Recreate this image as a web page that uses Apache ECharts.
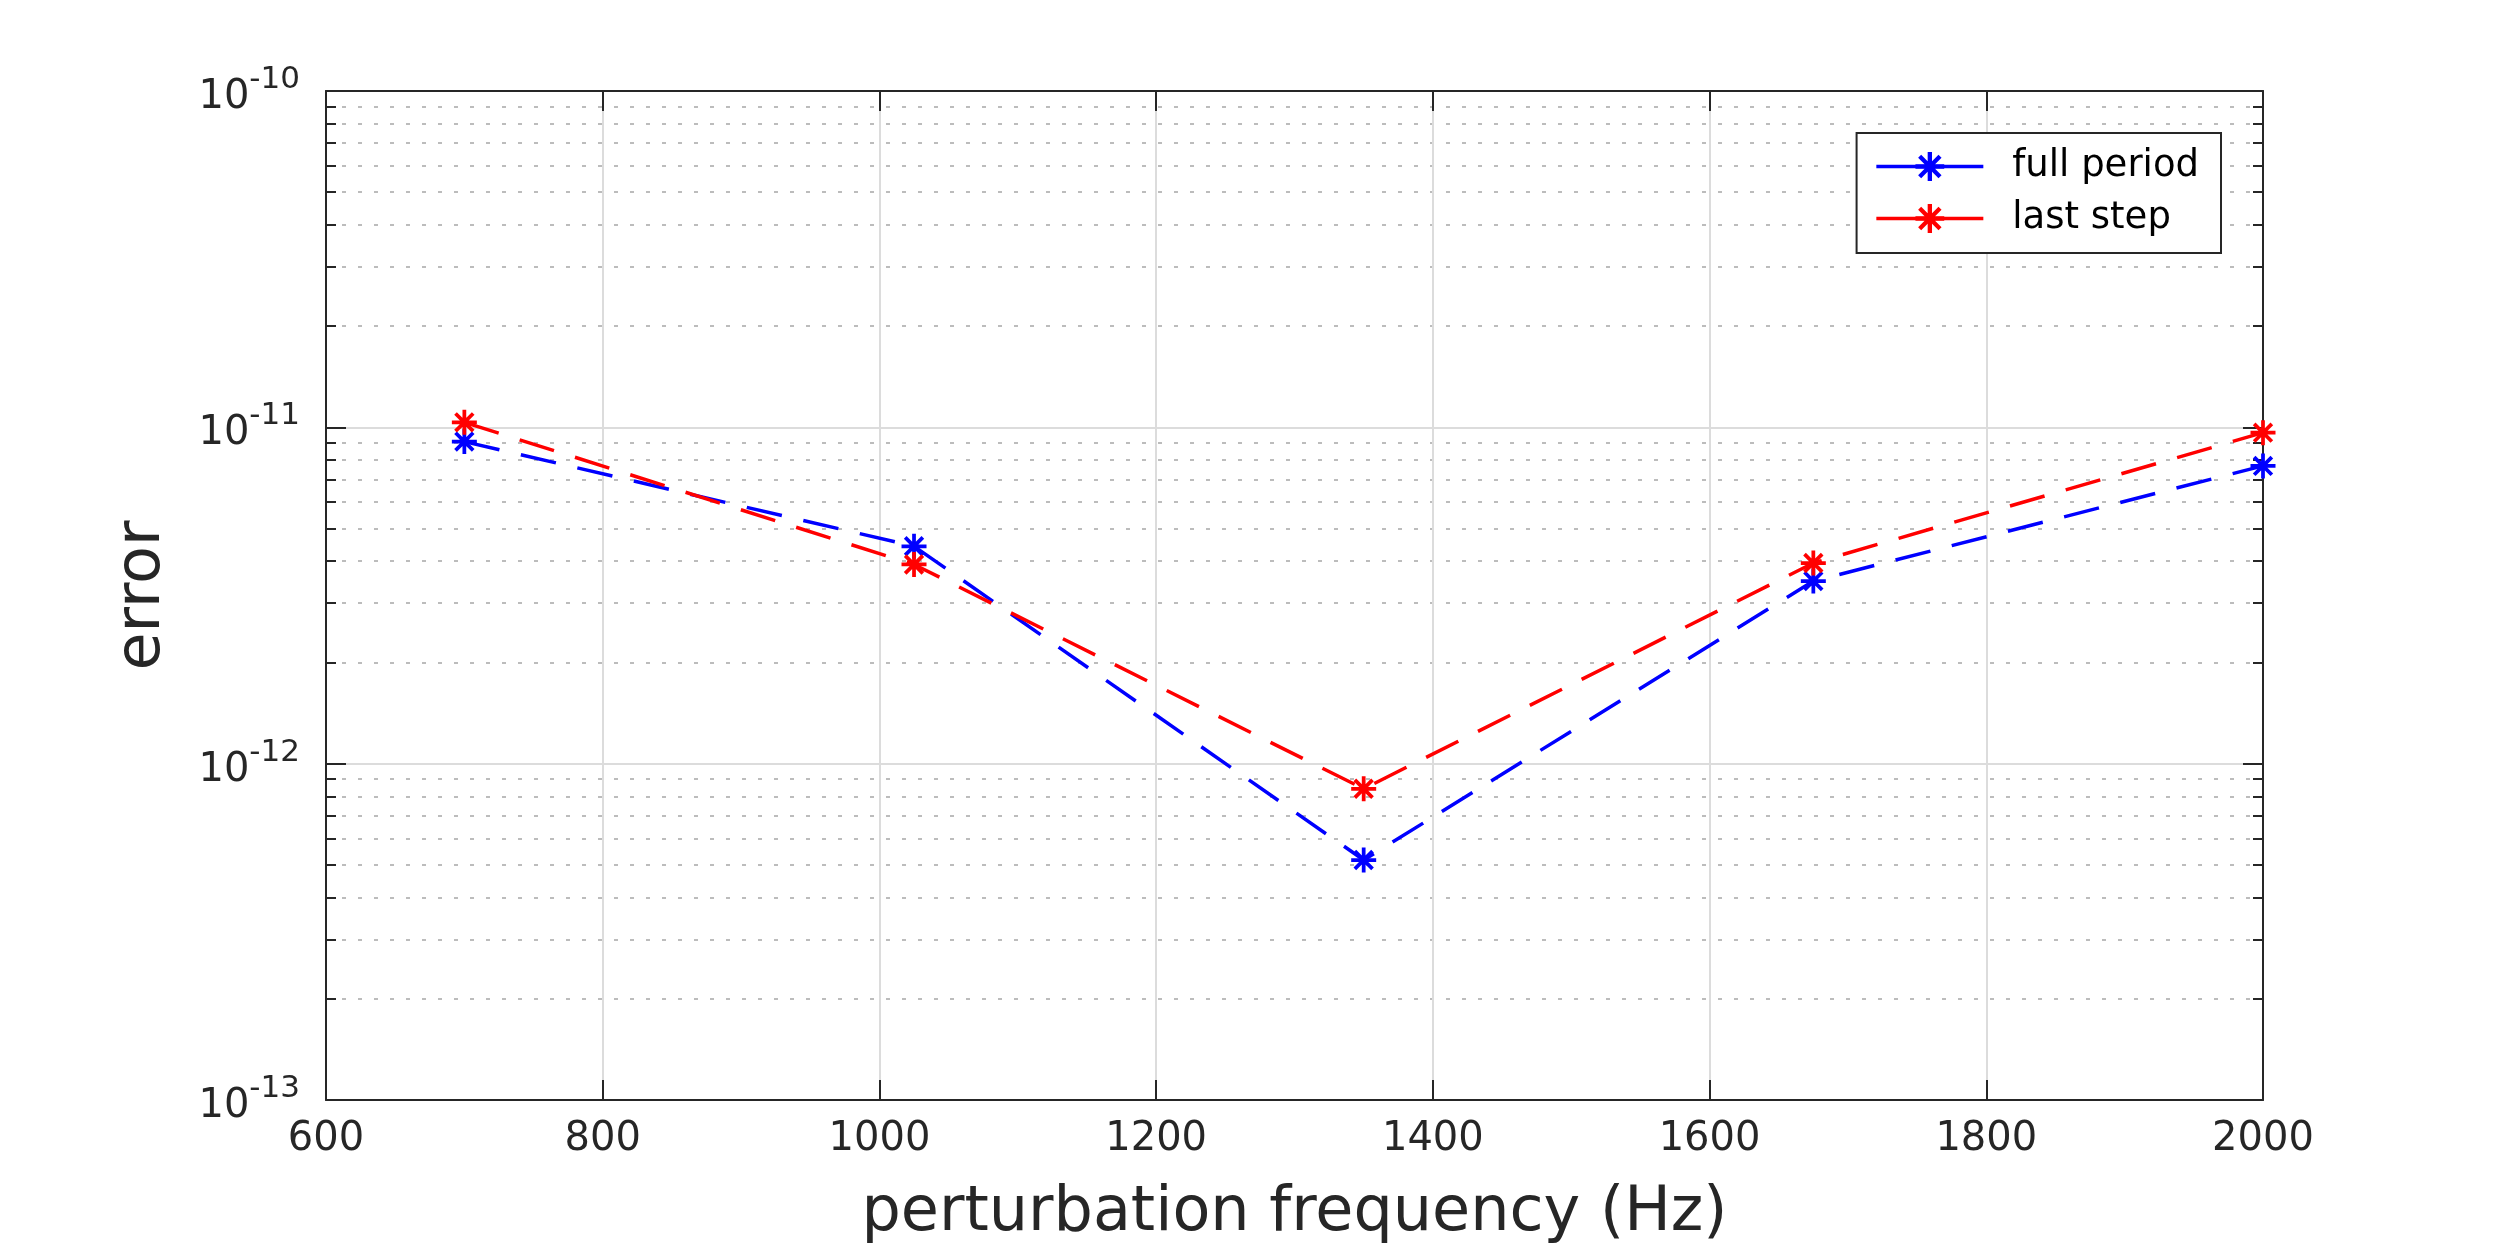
<!DOCTYPE html>
<html>
<head>
<meta charset="utf-8">
<title>error vs perturbation frequency</title>
<script src="https://cdn.jsdelivr.net/npm/echarts@6/dist/echarts.min.js"></script>
<style>
  html, body { margin: 0; padding: 0; background: #fff; }
  #chart { width: 2500px; height: 1250px; }
</style>
</head>
<body>
<div id="chart"></div>
<script>
/* ================================
   DATA
================================ */
const freqs      = [700, 1025, 1350, 1675, 2000];
const fullPeriod = [9.07e-12, 4.43e-12, 5.17e-13, 3.49e-12, 7.68e-12];
const lastStep   = [1.035e-11, 3.91e-12, 8.42e-13, 3.95e-12, 9.64e-12];

const seriesNames = ["full period", "last step"];
const xTicks      = [600, 800, 1000, 1200, 1400, 1600, 1800, 2000];
const yDecades    = [-13, -12, -11, -10];
const minorSteps  = [2, 3, 4, 5, 6, 7, 8, 9];

/* ================================
   STYLE
================================ */
const FONT  = "DejaVu Sans";
const INK   = "#262626";
const GRID  = "#dcdcdc";
const DOTS  = "#bcbcbc";

// MATLAB-ish asterisk marker (+ and x overlaid)
const ASTERISK = "path://M8.5 0L11.5 0L11.5 20L8.5 20Z" +
  "M0 8.5L20 8.5L20 11.5L0 11.5Z" +
  "M3.99 1.87L18.13 16.01L16.01 18.13L1.87 3.99Z" +
  "M18.13 3.99L3.99 18.13L1.87 16.01L16.01 1.87Z";

// minor tick values for the log axis (2..9 x each decade)
const minorValues = [];
yDecades.slice(0, -1).forEach(d => {
  minorSteps.forEach(k => minorValues.push(k * Math.pow(10, d)));
});

const yMin = Math.pow(10, yDecades[0]);
const yMax = Math.pow(10, yDecades[yDecades.length - 1]);

function pairs(xs, ys) {
  return xs.map((x, i) => [x, ys[i]]);
}

function yLabel(v) {
  const e = Math.round(Math.log10(v));
  return "{b|10}{s|" + e + "}";
}

const baseY = {
  type: "log",
  logBase: 10,
  min: yMin,
  max: yMax
};

/* ================================
   CHART
================================ */
const chart = echarts.init(document.getElementById("chart"));

chart.setOption({
  backgroundColor: "#fff",
  animation: false,
  textStyle: { fontFamily: FONT, color: INK },
  grid: {
    left: 326, right: 237, top: 91, bottom: 150,
    containLabel: false,
    outerBoundsMode: "none"
  },
  legend: {
    data: seriesNames,
    orient: "vertical",
    right: 279,
    top: 133,
    padding: [15, 22, 16, 18],
    itemGap: 15,
    itemWidth: 107,
    itemHeight: 36,
    borderColor: INK,
    borderWidth: 2,
    backgroundColor: "#fff",
    lineStyle: { type: "solid", width: 3.5 },
    textStyle: { fontFamily: FONT, fontSize: 37, color: "#000", padding: [0, 0, 0, 24] }
  },
  xAxis: [
    {
      type: "value",
      min: xTicks[0],
      max: xTicks[xTicks.length - 1],
      interval: 200,
      position: "bottom",
      name: "perturbation frequency (Hz)",
      nameLocation: "middle",
      nameGap: 83,
      nameTextStyle: { fontFamily: FONT, fontSize: 62, color: INK },
      axisLine: { lineStyle: { color: INK, width: 2 } },
      axisTick: { inside: true, length: 20, lineStyle: { color: INK, width: 2 } },
      axisLabel: { fontFamily: FONT, fontSize: 40, color: INK, margin: 20, formatter: v => String(v) },
      splitLine: { show: true, lineStyle: { color: GRID, width: 2 } }
    },
    {
      type: "value",
      min: xTicks[0],
      max: xTicks[xTicks.length - 1],
      interval: 200,
      position: "top",
      axisLine: { show: true, lineStyle: { color: INK, width: 2 } },
      axisTick: { inside: true, length: 20, lineStyle: { color: INK, width: 2 } },
      axisLabel: { show: false },
      splitLine: { show: false }
    }
  ],
  yAxis: [
    Object.assign({}, baseY, {
      position: "left",
      name: "error",
      nameLocation: "middle",
      nameRotate: 90,
      nameGap: 152,
      nameTextStyle: { fontFamily: FONT, fontSize: 62, color: INK },
      axisLine: { show: true, lineStyle: { color: INK, width: 2 } },
      axisTick: { inside: true, length: 20, lineStyle: { color: INK, width: 2 } },
      axisLabel: {
        margin: 26,
        formatter: yLabel,
        rich: {
          b: { fontFamily: FONT, fontSize: 40, color: INK, verticalAlign: "bottom" },
          s: { fontFamily: FONT, fontSize: 31, color: INK, verticalAlign: "bottom", padding: [0, 0, 22, 0] }
        }
      },
      splitLine: { show: true, lineStyle: { color: GRID, width: 2 } }
    }),
    Object.assign({}, baseY, {
      position: "right",
      axisLine: { show: true, lineStyle: { color: INK, width: 2 } },
      axisTick: { inside: true, length: 20, lineStyle: { color: INK, width: 2 } },
      axisLabel: { show: false },
      splitLine: { show: false }
    }),
    Object.assign({}, baseY, {
      position: "left",
      axisLine: { show: false },
      axisTick: { inside: true, length: 10, customValues: minorValues, lineStyle: { color: INK, width: 2 } },
      axisLabel: { show: false },
      splitLine: { show: true, lineStyle: { color: DOTS, width: 2, type: [4, 12] } }
    }),
    Object.assign({}, baseY, {
      position: "right",
      axisLine: { show: false },
      axisTick: { inside: true, length: 10, customValues: minorValues, lineStyle: { color: INK, width: 2 } },
      axisLabel: { show: false },
      splitLine: { show: false }
    })
  ],
  series: [
    {
      name: seriesNames[0],
      type: "line",
      data: pairs(freqs, fullPeriod),
      xAxisIndex: 0,
      yAxisIndex: 0,
      symbol: ASTERISK,
      symbolSize: 25,
      itemStyle: { color: "#0000ff" },
      lineStyle: { color: "#0000ff", width: 3.5, type: [36, 22] },
      z: 3
    },
    {
      name: seriesNames[1],
      type: "line",
      data: pairs(freqs, lastStep),
      xAxisIndex: 0,
      yAxisIndex: 0,
      symbol: ASTERISK,
      symbolSize: 25,
      itemStyle: { color: "#ff0000" },
      lineStyle: { color: "#ff0000", width: 3.5, type: [36, 22] },
      z: 4
    }
  ]
});
</script>
</body>
</html>
